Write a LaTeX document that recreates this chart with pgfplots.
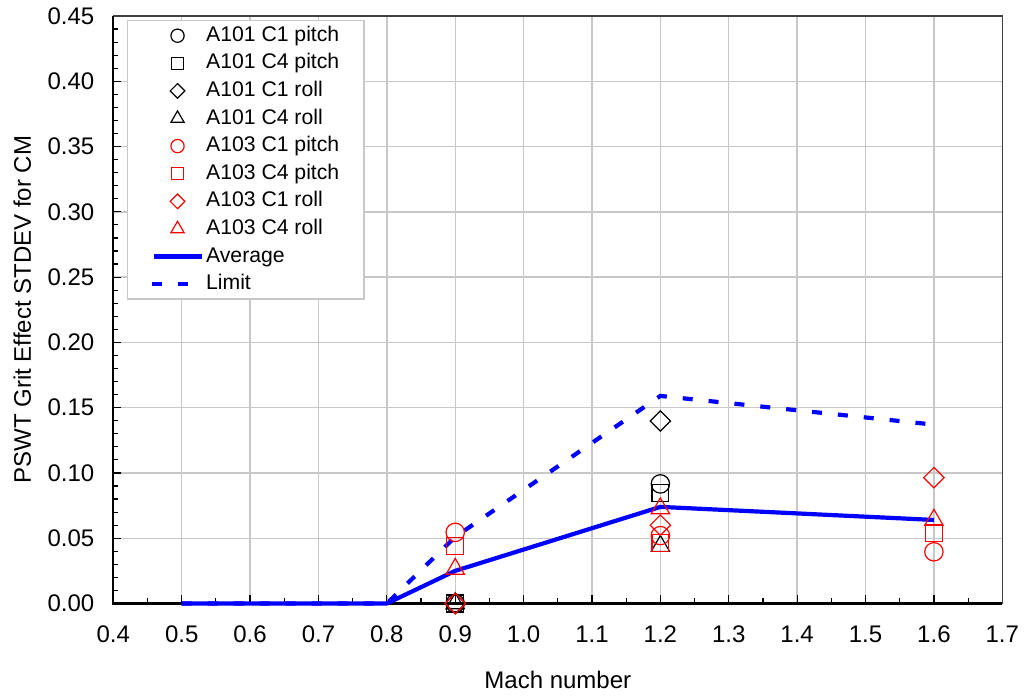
\documentclass[border=0pt]{standalone}
\usepackage{fontspec}
\setmainfont{Liberation Sans}
\usepackage{pgfplots}
\pgfplotsset{compat=1.18}
\definecolor{gridgray}{RGB}{200,200,200}
\begin{document}
\begin{tikzpicture}
\path[use as bounding box] (-56.65bp,-46.25bp) rectangle (455.35bp,301.75bp);
\begin{axis}[
  anchor=south west, at={(0,0)},
  width=444.5bp, height=293.75bp, scale only axis,
  xmin=0.4, xmax=1.7, ymin=0, ymax=0.45,
  xtick={0.4,0.5,0.6,0.7,0.8,0.9,1.0,1.1,1.2,1.3,1.4,1.5,1.6,1.7},
  ytick={0,0.05,0.1,0.15,0.2,0.25,0.3,0.35,0.4,0.45},
  minor x tick num=1, minor y tick num=4,
  tick pos=left, tick align=inside,
  major tick length=4bp, minor tick length=2.6bp,
  every tick/.style={black, line width=0.6bp},
  xmajorgrids, ymajorgrids,
  major grid style={draw=gridgray, line width=0.7bp},
  axis line style={draw=black!75, line width=0.55bp},
  /pgf/number format/assume math mode=true,
  tick label style={font=\fontsize{12bp}{14bp}\selectfont},
  xticklabel style={/pgf/number format/.cd, fixed, fixed zerofill, precision=1, /tikz/.cd, yshift=-7.5bp},
  yticklabel style={/pgf/number format/.cd, fixed, fixed zerofill, precision=2, /tikz/.cd, xshift=-6bp},
  scaled y ticks=false,
  xlabel={Mach number},
  ylabel={PSWT Grit Effect STDEV for CM},
  every axis x label/.style={at={(axis description cs:0.5,-0.1294)}, anchor=center, font=\fontsize{12bp}{14bp}\selectfont},
  every axis y label/.style={at={(axis description cs:-0.1024,0.5)}, anchor=center, rotate=90, font=\fontsize{12bp}{14bp}\selectfont},
  clip=false,
  legend cell align=left,
  legend style={at={(axis description cs:0.0151,0.9932)}, anchor=north west,
    draw=gridgray, line width=0.7bp, fill=white,
    font=\fontsize{10.6bp}{12bp}\selectfont,
    inner xsep=11bp, inner ysep=1bp, row sep=0.8bp, column sep=0bp,
    nodes={text height=8bp, text depth=2.5bp, inner xsep=1.25bp, inner ysep=1.25bp}},
  legend image code/.code={\draw[#1, only marks, every mark/.append style={scale=0.72}] plot coordinates {(12bp,0bp)};},
]
% thick left and bottom axis lines, beneath the data
\draw[black, line width=1.1bp] (rel axis cs:0,1) -- (rel axis cs:0,0) -- (rel axis cs:1,0);
% lines first (drawn beneath markers)
\addplot[blue, line width=2.1bp, forget plot] coordinates {(0.5,0) (0.8,0) (0.9,0.025) (1.2,0.074) (1.6,0.064)};
\addplot[blue, line width=2.1bp, dash pattern=on 5bp off 8bp, forget plot] coordinates {(0.5,0) (0.8,0) (0.9,0.051) (1.2,0.159) (1.6,0.137)};
% A101
\addplot[black, only marks, mark=o, mark size=4.6bp, line width=0.6bp] coordinates {(0.9,0) (1.2,0.0916)};
\addlegendentry{A101 C1 pitch}
\addplot[black, only marks, mark=square, mark size=4.2bp, line width=0.6bp] coordinates {(0.9,0) (1.2,0.0846)};
\addlegendentry{A101 C4 pitch}
\addplot[black, only marks, mark=square, mark size=3.6bp, line width=0.6bp, mark options={rotate=45}] coordinates {(0.9,0) (1.2,0.1398)};
\addlegendentry{A101 C1 roll}
\addplot[black, only marks, mark=triangle, mark size=5.3bp, line width=0.6bp] coordinates {(0.9,0) (1.2,0.0440)};
\addlegendentry{A101 C4 roll}
% A103
\addplot[red, only marks, mark=o, mark size=4.6bp, line width=0.6bp] coordinates {(0.9,0.0545) (1.2,0.052) (1.6,0.0396)};
\addlegendentry{A103 C1 pitch}
\addplot[red, only marks, mark=square, mark size=4.2bp, line width=0.6bp, forget plot] coordinates {(0.9,0.0439) (1.2,0.0464) (1.6,0.054)};
\addlegendimage{legend image code/.code={\draw[red, line width=0.6bp] (9bp,-3bp) rectangle (15bp,3bp);}}
\addlegendentry{A103 C4 pitch}
\addplot[red, only marks, mark=square, mark size=3.6bp, line width=0.6bp, mark options={rotate=45}] coordinates {(0.9,0) (1.2,0.060) (1.6,0.0964)};
\addlegendentry{A103 C1 roll}
\addplot[red, only marks, mark=triangle, mark size=5.3bp, line width=0.6bp] coordinates {(0.9,0.0264) (1.2,0.0728) (1.6,0.064)};
\addlegendentry{A103 C4 roll}
\addlegendimage{legend image code/.code={\draw[blue, line width=2.1bp] (0bp,0bp) -- (24bp,0bp);}}
\addlegendentry{Average}
\addlegendimage{legend image code/.code={\draw[blue, line width=2.1bp, dash pattern=on 5bp off 8bp] (-1bp,0bp) -- (24bp,0bp);}}
\addlegendentry{Limit}
\end{axis}
\end{tikzpicture}
\end{document}
